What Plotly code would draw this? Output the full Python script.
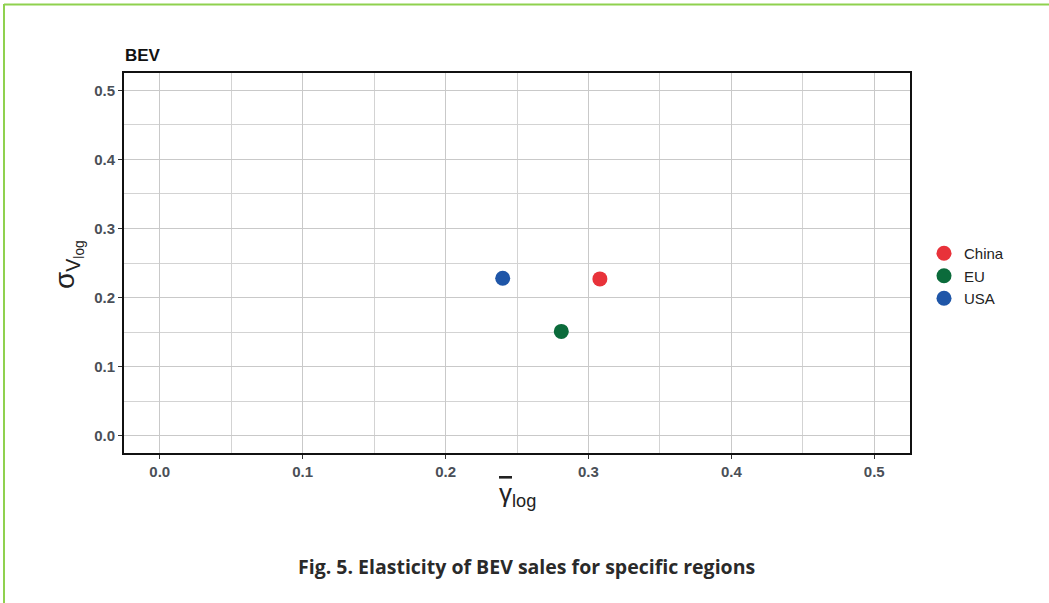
import plotly.graph_objects as go

regions = ["China", "EU", "USA"]
gamma_log = [0.308, 0.281, 0.240]
sigma_v_log = [0.227, 0.151, 0.228]
colors = ["#e8323a", "#0b6b3b", "#1f56a8"]
tick_vals = [0.0, 0.1, 0.2, 0.3, 0.4, 0.5]
tick_text = ["0.0", "0.1", "0.2", "0.3", "0.4", "0.5"]

W, H = 1049, 603
L, R, T, B = 124, 139, 73, 150
pw, ph = W - L - R, H - T - B

fig = go.Figure()
for name, x, y, c in zip(regions, gamma_log, sigma_v_log, colors):
    fig.add_trace(go.Scatter(x=[x], y=[y], mode="markers", name=name,
                             marker=dict(color=c, size=15, line=dict(width=0))))

axis_common = dict(
    tickvals=tick_vals, ticktext=tick_text, range=[-0.025, 0.525],
    showgrid=True, gridcolor="#c9c9c9", gridwidth=1,
    minor=dict(dtick=0.05, showgrid=True, gridcolor="#d3d3d3", gridwidth=1, ticks=""),
    showline=True, linecolor="#111111", linewidth=2, mirror=True,
    ticks="outside", ticklen=4, tickcolor="#333333", tickwidth=1,
    tickfont=dict(family="Liberation Sans", size=15, color="#4a4f57", weight="bold"),
    zeroline=False,
)
fig.update_xaxes(**axis_common)
fig.update_yaxes(**axis_common)

def px_x(p):
    return (p - L) / pw

def px_y(p):
    return 1 - (p - T) / ph

fig.update_layout(
    width=W, height=H,
    margin=dict(l=L, r=R, t=T, b=B),
    paper_bgcolor="white", plot_bgcolor="white",
    showlegend=True,
    legend=dict(x=px_x(924), y=px_y(237), xanchor="left", yanchor="top",
                font=dict(family="Liberation Sans, Arial", size=15, color="#222222"),
                itemsizing="trace", tracegroupgap=0, bgcolor="rgba(0,0,0,0)"),
    annotations=[
        dict(text="<b>BEV</b>", x=px_x(123), y=px_y(55), xref="paper", yref="paper",
             xanchor="left", yanchor="middle", showarrow=False,
             font=dict(family="Liberation Sans, Arial", size=17, color="#111111")),
        dict(text="<span style='text-decoration:overline'>γ</span><sub>log</sub>",
             x=px_x(517), y=px_y(494), xref="paper", yref="paper",
             xanchor="center", yanchor="middle", showarrow=False,
             font=dict(family="Liberation Sans, Arial", size=26, color="#222222")),
        dict(text="σ<sub>V<sub>log</sub></sub>", x=px_x(68), y=px_y(265), xref="paper", yref="paper",
             xanchor="center", yanchor="middle", showarrow=False, textangle=-90,
             font=dict(family="Liberation Sans, Arial", size=28, color="#222222")),
        dict(text="<b>Fig. 5. Elasticity of BEV sales for specific regions</b>",
             x=px_x(526), y=px_y(566), xref="paper", yref="paper",
             xanchor="center", yanchor="middle", showarrow=False,
             font=dict(family="Open Sans, Roboto", size=19.5, color="#2a2a2a")),
    ],
    shapes=[
        dict(type="line", xref="paper", yref="paper", x0=px_x(4), x1=px_x(4),
             y0=px_y(4), y1=px_y(603), line=dict(color="#8fd14f", width=2)),
        dict(type="line", xref="paper", yref="paper", x0=px_x(4), x1=px_x(1049),
             y0=px_y(4.5), y1=px_y(4.5), line=dict(color="#8fd14f", width=2)),
    ],
)

fig.write_html("out.html")
